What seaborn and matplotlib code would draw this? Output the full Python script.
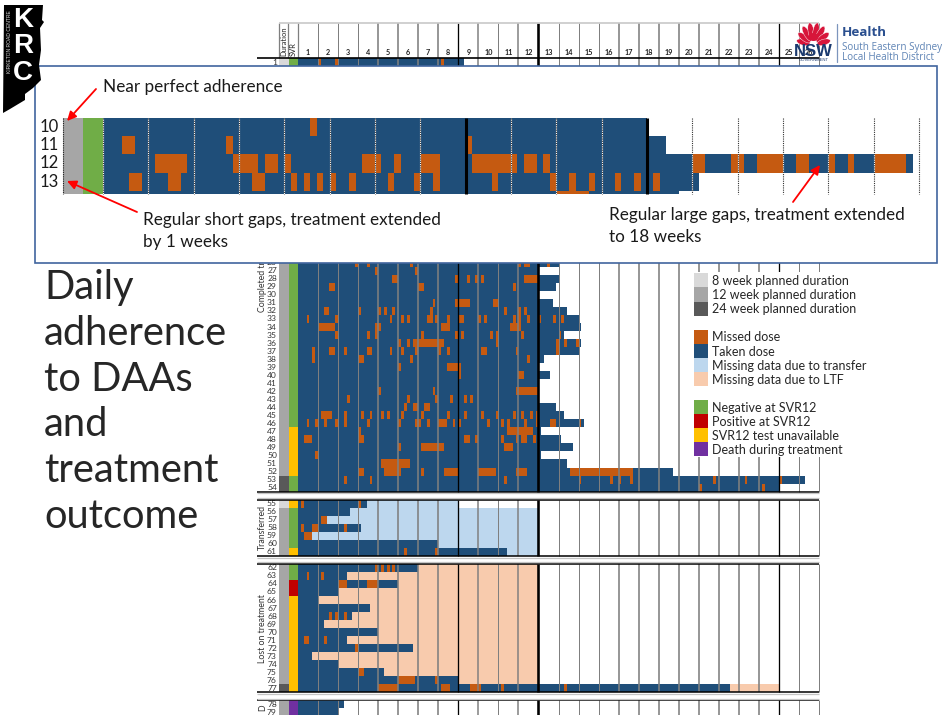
import numpy as np
import matplotlib
matplotlib.use("Agg")
import matplotlib.pyplot as plt
from matplotlib.colors import ListedColormap
from matplotlib.patches import Rectangle, Polygon, Ellipse
import seaborn as sns

sns.set_theme(style="white")
plt.rcParams['font.family'] = ['Lato', 'DejaVu Sans']

# ---------- main chart values (days since treatment start) ----------
row_1_end = 58
row_1_missed = [(7, 8), (13, 14), (50, 51)]

completed_rows = list(range(26, 55))
completed_end = [91, 84, 91, 90, 84, 89, 94, 98, 99, 93, 99, 98, 86, 84, 88, 84, 84, 84, 90, 93,
                 100, 85, 92, 96, 85, 94, 131, 177, 168]
completed_missed = [
    [(20, 21), (24, 25), (39, 40), (77, 78), (79, 81), (87, 88)],
    [(27, 28), (41, 42)],
    [(33, 35), (55, 56), (59, 60), (62, 63), (64, 65), (79, 84)],
    [(11, 13), (42, 44), (75, 76)],
    [],
    [(47, 48), (55, 60), (68, 70)],
    [(9, 11), (21, 22), (28, 29), (30, 31), (33, 34), (46, 47), (72, 73), (77, 78), (79, 80)],
    [(3, 4), (13, 14), (32, 33), (36, 37), (38, 39), (45, 47), (48, 49), (52, 53), (56, 58),
     (63, 64), (65, 66), (75, 76), (77, 78), (80, 81), (84, 85), (89, 90), (92, 93)],
    [(7, 13), (27, 29), (50, 53), (74, 78)],
    [(13, 14), (24, 25), (27, 28), (43, 44), (55, 56), (57, 58), (67, 68), (69, 70), (78, 79), (91, 92)],
    [(35, 36), (38, 39), (40, 51), (69, 70), (90, 91), (93, 94), (97, 98)],
    [(5, 6), (11, 13), (16, 17), (24, 26), (32, 33), (36, 37), (41, 42), (49, 50), (52, 53),
     (64, 66), (76, 77), (90, 91)],
    [(5, 6), (21, 23), (39, 40), (80, 81)],
    [(35, 36), (52, 57)],
    [(56, 57), (77, 79)],
    [],
    [(28, 29), (47, 48), (76, 77), (77, 84)],
    [(17, 18), (38, 39), (48, 49), (53, 54), (58, 59), (60, 61)],
    [(37, 38), (40, 42), (44, 46)],
    [(8, 12), (16, 17), (22, 23), (25, 26), (29, 30), (31, 32), (36, 37), (43, 44), (52, 53),
     (58, 59), (64, 65), (69, 70), (75, 76), (78, 79), (81, 82), (83, 84)],
    [(3, 4), (6, 7), (9, 10), (13, 14), (16, 17), (24, 25), (35, 36), (41, 43), (45, 46), (49, 52),
     (54, 55), (56, 57), (66, 67), (71, 72), (73, 74), (79, 80), (83, 84), (88, 90), (98, 99)],
    [(21, 22), (73, 82)],
    [(2, 5), (21, 23), (58, 60), (62, 63), (71, 72), (76, 77), (78, 80), (82, 83)],
    [(35, 36), (43, 51), (72, 75)],
    [(6, 7)],
    [(29, 39)],
    [(21, 23), (30, 36), (43, 44), (51, 56), (63, 69), (76, 77), (77, 80), (95, 117)],
    [(16, 17), (25, 26), (72, 73), (98, 99), (109, 110), (112, 113), (116, 117), (145, 146),
     (156, 157), (168, 169)],
    [(140, 141), (162, 163)],
]

transfer_rows = list(range(55, 62))
transfer_end = [24, 18, 10, 22, 5, 49, 73]
transfer_missing_end = [56, 84, 84, 84, 84, 84, 84]
transfer_missed = [
    [(1, 2), (21, 22)], [], [(8, 10)], [(1, 2), (5, 7), (16, 17)], [(2, 5)], [], [(37, 38), (48, 49)],
]

lost_rows = list(range(62, 78))
lost_end = [42, 17, 35, 14, 7, 25, 19, 9, 28, 17, 40, 5, 14, 30, 56, 151]
lost_missing_end = [84, 84, 84, 84, 84, 84, 84, 84, 84, 84, 84, 84, 84, 84, 84, 168]
lost_missed = [
    [(27, 28), (29, 30), (31, 32), (33, 34)], [(3, 4), (8, 9)], [(14, 17), (24, 28)], [], [], [],
    [(11, 12), (13, 14), (16, 17)], [], [], [(2, 4), (9, 10)], [(20, 21)], [], [], [(21, 23)],
    [(35, 41), (48, 49)],
    [(28, 35), (50, 53), (60, 63), (63, 64), (71, 72), (93, 94)],
]

death_rows = [78, 79]
death_end = [16, 14]

# planned duration (weeks) and SVR12 outcome per row
duration_rows = [1] + list(range(26, 80))
duration_weeks = [8] + [12] * 27 + [24, 24] + [8] + [12] * 21 + [24] + [12, 12]
svr_codes = (["neg"] + ["neg"] * 21 + ["na"] * 6 + ["neg", "neg"] + ["na"] + ["neg"] * 5 + ["na"]
             + ["neg", "neg"] + ["pos", "pos"] + ["na"] * 12 + ["death", "death"])

week_labels = [str(w) for w in range(1, 27)]
# rows 2-25 lie behind the white inset panel in the reference, so they are not read or labelled
labelled_rows = [1] + list(range(26, 80))

# ---------- inset values ----------
inset_rows = [10, 11, 12, 13, 14]
inset_end = [84, 87, 125, 92, 89]
inset_missed = [
    [(32, 33)],
    [(3, 5), (19, 20), (56, 57)],
    [(8, 13), (20, 24), (25, 27), (28, 29), (40, 43), (45, 46), (49, 52), (57, 64), (65, 67), (68, 69),
     (91, 93), (97, 99), (101, 105), (107, 109), (112, 113), (115, 116), (119, 124)],
    [(4, 6), (10, 12), (23, 25), (29, 30), (31, 32), (33, 34), (35, 36), (38, 39), (44, 45), (48, 49),
     (51, 52), (60, 61), (69, 70), (72, 73), (75, 76), (79, 80), (82, 83), (85, 86)],
    [(70, 75)],
]

title_lines = ["Daily", "adherence", "to DAAs", "and", "treatment", "outcome"]
legend_groups = [
    [("8 week planned duration", "#D9D9D9"), ("12 week planned duration", "#A6A6A6"),
     ("24 week planned duration", "#595959")],
    [("Missed dose", "#C55A11"), ("Taken dose", "#1F4E79"),
     ("Missing data due to transfer", "#BDD7EE"), ("Missing data due to LTF", "#F8CBAD")],
    [("Negative at SVR12", "#70AD47"), ("Positive at SVR12", "#C00000"),
     ("SVR12 test unavailable", "#FFC000"), ("Death during treatment", "#7030A0")],
]

# ---------- layout helpers ----------
W, H = 950, 715
DAYS, MISSED, TAKEN, TRANSFER, LTF = 182, 2, 1, 3, 4
ROW_H = 8.03
TOP = 58.0
N_GRID = 82


def px_axes(x0, y0, x1, y1, zorder):
    return fig.add_axes([x0 / W, 1 - y1 / H, (x1 - x0) / W, (y1 - y0) / H], zorder=zorder)


def grid_index(r):
    if r <= 54:
        return r - 1
    if r <= 61:
        return r
    if r <= 77:
        return r + 1
    return r + 2


def fill(matrix, idx, end, missed, missing_end=0, missing_code=0):
    matrix[idx, :end] = TAKEN
    if missing_end:
        matrix[idx, end:missing_end] = missing_code
    for a, b in missed:
        matrix[idx, a:b] = MISSED


# ---------- build matrices ----------
adherence = np.zeros((N_GRID, DAYS), dtype=int)
fill(adherence, grid_index(1), row_1_end, row_1_missed)
for r, e, m in zip(completed_rows, completed_end, completed_missed):
    fill(adherence, grid_index(r), e, m)
for r, e, me, m in zip(transfer_rows, transfer_end, transfer_missing_end, transfer_missed):
    fill(adherence, grid_index(r), e, m, me, TRANSFER)
for r, e, me, m in zip(lost_rows, lost_end, lost_missing_end, lost_missed):
    fill(adherence, grid_index(r), e, m, me, LTF)
for r, e in zip(death_rows, death_end):
    fill(adherence, grid_index(r), e, [])

meta = np.zeros((N_GRID, 2), dtype=int)
dur_code = {8: 1, 12: 2, 24: 3}
svr_code = {"neg": 4, "pos": 5, "na": 6, "death": 7}
for r, d, s in zip(duration_rows, duration_weeks, svr_codes):
    meta[grid_index(r), 0] = dur_code[d]
    meta[grid_index(r), 1] = svr_code[s]

adh_cmap = ListedColormap(["#FFFFFF", "#1F4E79", "#C55A11", "#BDD7EE", "#F8CBAD"])
meta_cmap = ListedColormap(["#FFFFFF", "#D9D9D9", "#A6A6A6", "#595959", "#70AD47", "#C00000", "#FFC000", "#7030A0"])

fig = plt.figure(figsize=(W / 100, H / 100), dpi=100, facecolor="white")

# ---------- main heatmaps ----------
ax_meta = px_axes(279, TOP, 298, H, 1)
sns.heatmap(meta, ax=ax_meta, cmap=meta_cmap, vmin=-0.5, vmax=7.5, cbar=False)
ax_meta.set_ylim((H - TOP) / ROW_H, 0)
ax_meta.set_xticks([0.5, 1.5], ["Duration", "SVR"], rotation=90, fontsize=5.4, color="#222222")
ax_meta.xaxis.tick_top()
ax_meta.set_yticks([grid_index(r) + 0.5 for r in labelled_rows], [str(r) for r in labelled_rows],
                   rotation=0, fontsize=6.1, color="#333333")
ax_meta.tick_params(axis="both", length=0, pad=1.5)

ax_days = px_axes(298, TOP, 819, H, 2)
ax_days.patch.set_alpha(0)
sns.heatmap(adherence, ax=ax_days, cmap=adh_cmap, vmin=-0.5, vmax=4.5, cbar=False)
ax_days.set_ylim((H - TOP) / ROW_H, 0)
ax_days.xaxis.tick_top()
ax_days.set_xticks([7 * (i + 0.5) for i in range(26)], week_labels, rotation=0, fontsize=5.2,
                   fontweight="bold", color="#222222")
ax_days.set_yticks([])
ax_days.tick_params(axis="x", length=0, pad=1.5)

panels = [(0, 54), (55, 62), (63, 79), (80, 82)]
week_widths = {1: 1.0, 2: 1.0, 3: 1.0, 9: 1.5, 10: 1.0, 11: 1.5, 13: 1.0, 14: 1.0, 15: 1.0, 25: 1.0, 26: 1.0}
header_top = (23 - TOP) / ROW_H
x_left = (257 - 298) / (521 / 182)
x_meta = [(279 - 298) / (521 / 182), (288 - 298) / (521 / 182), 0]
for k in range(1, 27):
    color, px = "#7F7F7F", week_widths.get(k, 1.6)
    if k in (8, 24):
        color, px = "#000000", 1.3
    if k == 12:
        color, px = "#000000", 2.6
    spans = [(header_top, 54)] + panels[1:]
    for y0, y1 in spans:
        ax_days.vlines(7 * k, y0, y1, color=color, lw=px * 0.72, clip_on=False, zorder=5)
for xm in x_meta:
    ax_days.vlines(xm, header_top, 0.0, color="#7F7F7F", lw=0.9, clip_on=False, zorder=5)
ax_days.hlines(header_top, x_meta[0], 182, color="#C8C8C8", lw=1.2, clip_on=False, zorder=5)
ax_days.hlines(0, x_left, 182, color="#000000", lw=1.2, clip_on=False, zorder=6)
for y0, y1 in panels:
    if y0 > 0:
        ax_days.hlines(y0, x_left, 182, color="#000000", lw=1.1, clip_on=False, zorder=6)
        ax_days.hlines(y0 - 0.2, x_left, 182, color="#C4C4C4", lw=0.9, clip_on=False, zorder=6)
    if y1 < 82:
        ax_days.hlines(y1, x_left, 182, color="#000000", lw=1.1, clip_on=False, zorder=6)
        ax_days.hlines(y1 + 0.22, x_left, 182, color="#C4C4C4", lw=0.9, clip_on=False, zorder=6)

panel_x = (262.5 - 298) / (521 / 182)
for label, center in [("Completed treatment", 26.5), ("Transferred", 58.5),
                      ("Lost on treatment", 71.0), ("D", 80.9)]:
    ax_days.text(panel_x, center, label, rotation=90, ha="center", va="center", fontsize=6.3,
                 color="#333333", clip_on=False)

# ---------- back overlay: legend + inset panel ----------
ax_back = px_axes(0, 0, W, H, 3)
ax_back.set_xlim(0, W)
ax_back.set_ylim(H, 0)
ax_back.axis("off")

ax_back.add_patch(Rectangle((692, 272), 178, 185, fc="white", ec="none"))
y = 273.3
for group in legend_groups:
    for text, color in group:
        ax_back.add_patch(Rectangle((694, y), 14, 14.1, fc=color, ec="none"))
        ax_back.text(712, y + 7.8, text, fontsize=9.0, va="center", ha="left", color="#262626")
        y += 14.1
    y += 14.0

ax_back.add_patch(Rectangle((34.5, 66), 902.5, 197, fc="white", ec="#41659E", lw=1.2))

# ---------- inset heatmaps ----------
inset_rh = 18.2
inset = np.zeros((5, 126), dtype=int)
for i, (e, m) in enumerate(zip(inset_end, inset_missed)):
    fill(inset, i, e, m)
inset_meta = np.tile(np.array([[2, 4]]), (5, 1))

ax_im = px_axes(62.5, 118, 103, 194, 4)
sns.heatmap(inset_meta, ax=ax_im, cmap=meta_cmap, vmin=-0.5, vmax=7.5, cbar=False)
ax_im.set_ylim(76 / inset_rh, 0)
ax_im.set_xticks([])
ax_im.set_yticks([0.5, 1.5, 2.5, 3.5], [str(r) for r in inset_rows[:4]], rotation=0, fontsize=12,
                 color="#1a1a1a")
ax_im.tick_params(axis="y", length=0, pad=2.5)
ax_im.vlines([0], 0, 76 / inset_rh, color="#222222", lw=0.8, linestyles=(0, (1, 1)), clip_on=False)

ax_id = px_axes(103, 118, 919, 194, 4)
ax_id.patch.set_alpha(0)
sns.heatmap(inset, ax=ax_id, cmap=adh_cmap, vmin=-0.5, vmax=4.5, cbar=False)
ax_id.set_ylim(76 / inset_rh, 0)
ax_id.set_xticks([])
ax_id.set_yticks([])
ax_id.set_xlim(0, 126)
for k in range(0, 19):
    if k in (8, 12):
        ax_id.vlines(7 * k, 0, 76 / inset_rh, color="#000000", lw=2.2, clip_on=False, zorder=5)
    else:
        ax_id.vlines(7 * k, 0, 76 / inset_rh, color="#FFFFFF", lw=0.8, clip_on=False, zorder=5)
        ax_id.vlines(7 * k, 0, 76 / inset_rh, color="#333333", lw=0.8, linestyles=(0, (1, 1)),
                     clip_on=False, zorder=6)

# ---------- front overlay: text, arrows, logos ----------
ax_f = px_axes(0, 0, W, H, 5)
ax_f.set_xlim(0, W)
ax_f.set_ylim(H, 0)
ax_f.axis("off")

for i, line in enumerate(title_lines):
    ax_f.text(44, 287.5 + i * 45.8, line, fontsize=28.7, va="center", ha="left", color="#262626")

note_size = 12.3
ax_f.text(103, 87, "Near perfect adherence", fontsize=note_size, va="center", color="#1a1a1a")
ax_f.text(143, 220, "Regular short gaps, treatment extended", fontsize=note_size, va="center", color="#1a1a1a")
ax_f.text(143, 242, "by 1 weeks", fontsize=note_size, va="center", color="#1a1a1a")
ax_f.text(609, 215, "Regular large gaps, treatment extended", fontsize=note_size, va="center", color="#1a1a1a")
ax_f.text(609, 237, "to 18 weeks", fontsize=note_size, va="center", color="#1a1a1a")
for start, end in [((96, 89), (67, 121)), ((137, 212), (67, 181)), ((793, 202), (820, 165))]:
    ax_f.annotate("", xy=end, xytext=start,
                  arrowprops=dict(arrowstyle="-|>,head_width=0.22,head_length=0.45", color="#FF0000", lw=1.3,
                                  shrinkA=0, shrinkB=0))

# KRC logo
ax_f.add_patch(Polygon([(4, 5), (43, 5), (42, 20), (44, 22), (40, 28), (41, 50), (39, 65), (41, 80), (33, 88),
                        (25, 94), (25, 100), (10, 109), (3, 113)], closed=True, fc="#000000", ec="none"))
for letter, ly in zip("KRC", (20, 46, 73)):
    ax_f.text(23, ly, letter, fontsize=20, fontweight="bold", family="Liberation Sans", color="white",
              ha="center", va="center")
ax_f.text(9.5, 42, "KIRKETON ROAD CENTRE", rotation=90, fontsize=3.6, color="#DDDDDD", ha="center", va="center",
          family="Liberation Sans")

# NSW Health logo
for ang, length in zip((-75, -52, -30, -10, 10, 30, 52, 75), (17, 19, 21, 22, 22, 21, 19, 17)):
    rad = np.deg2rad(ang)
    cx = 813.5 + np.sin(rad) * length * 0.62
    cy = 45 - np.cos(rad) * length * 0.62
    ax_f.add_patch(Ellipse((cx, cy), 6, length * 0.8, angle=ang, fc="#D7153A", ec="white", lw=0.3))
ax_f.add_patch(Ellipse((813.5, 37), 10, 8, fc="#D7153A", ec="none"))
ax_f.text(813.5, 51.5, "NSW", fontsize=12, fontweight="bold", family="Liberation Sans", color="#1B3A6F",
          ha="center", va="center")
ax_f.text(813.5, 60, "GOVERNMENT", fontsize=3, family="Liberation Sans", color="#1B3A6F", ha="center", va="center")
ax_f.plot([837, 837], [24, 61.5], color="#7C95BD", lw=0.9)
ax_f.text(842, 33, "Health", fontsize=9.6, fontweight="bold", family="Open Sans", color="#2A4F8F", va="center")
ax_f.text(842, 47.5, "South Eastern Sydney", fontsize=7.1, family="Open Sans", color="#5F84B5", va="center")
ax_f.text(842, 58, "Local Health District", fontsize=7.1, family="Open Sans", color="#5F84B5", va="center")

fig.savefig("out.png", dpi=100)
